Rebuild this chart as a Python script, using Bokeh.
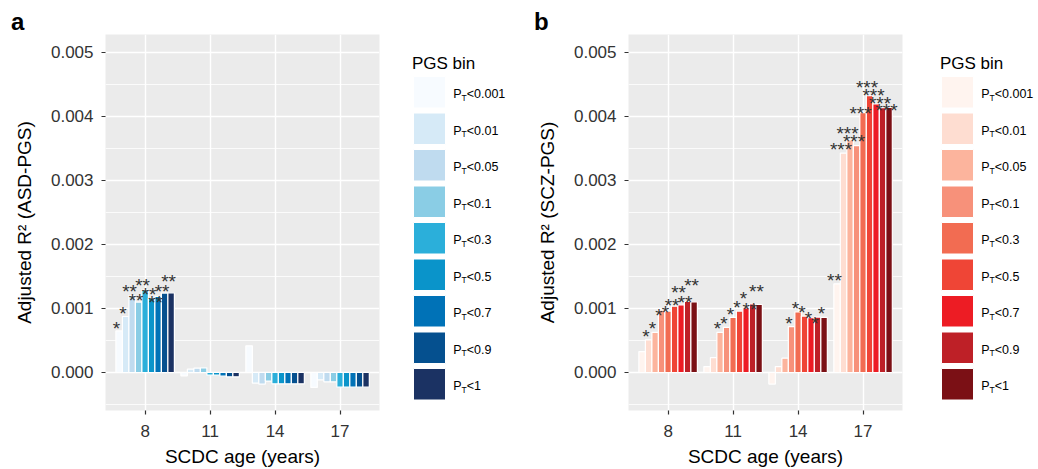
from bokeh.plotting import figure
from bokeh.models import Range1d, FixedTicker, PrintfTickFormatter
from bokeh.layouts import row
from bokeh.embed import file_html
from bokeh.resources import INLINE
from bokeh.core.properties import value

# ---------------- data ----------------
ages = [8, 11, 14, 17]
pgs_bins = ["0.001", "0.01", "0.05", "0.1", "0.3", "0.5", "0.7", "0.9", "1"]

asd_age8 = [0.00065, 0.000875, 0.0012, 0.0011, 0.00129, 0.00116, 0.00119, 0.00124, 0.001245]
asd_age11 = [-0.000052, 0.000052, 0.000068, 0.000073, -0.000042, -0.000042, -0.000057, -0.000068, -0.000068]
asd_age14 = [0.000417, -0.000167, -0.000182, -0.000135, -0.000177, -0.000177, -0.000177, -0.000177, -0.000177]
asd_age17 = [-0.000234, -0.000115, -0.000146, -0.000146, -0.000229, -0.000229, -0.000229, -0.000229, -0.000229]

scz_age8 = [0.000326, 0.000508, 0.000627, 0.000974, 0.000959, 0.001036, 0.001057, 0.001109, 0.001104]
scz_age11 = [0.000093, 0.000233, 0.000627, 0.000705, 0.00086, 0.000959, 0.00101, 0.001073, 0.001062]
scz_age14 = [-0.000181, 0.000093, 0.000223, 0.000715, 0.000948, 0.000881, 0.000855, 0.000865, 0.00086]
scz_age17 = [0.001386, 0.003427, 0.003634, 0.003546, 0.00406, 0.004325, 0.004195, 0.004138, 0.004143]

asd_sig8 = ["*", "*", "**", "**", "**", "**", "**", "**", "**"]
asd_sig11 = [""] * 9
asd_sig14 = [""] * 9
asd_sig17 = [""] * 9

scz_sig8 = ["", "*", "*", "*", "*", "**", "**", "**", "**"]
scz_sig11 = ["", "", "*", "*", "*", "*", "*", "**", "**"]
scz_sig14 = ["", "", "", "*", "*", "*", "*", "*", "*"]
scz_sig17 = ["**", "***", "***", "***", "***", "***", "***", "***", "***"]

# heights (centre of the asterisks) of the significance labels, as read
asd_lab8 = [0.000849, 0.001094, 0.001432, 0.001292, 0.001526, 0.001385, 0.001266, 0.001432, 0.001589]
asd_lab11 = [0] * 9
asd_lab14 = [0] * 9
asd_lab17 = [0] * 9
scz_lab8 = [0, 0.000731, 0.000855, 0.001062, 0.001104, 0.001218, 0.001415, 0.001269, 0.001523]
scz_lab11 = [0, 0, 0.00085, 0.00093, 0.00108, 0.00119, 0.00133, 0.00115, 0.00144]
scz_lab14 = [0, 0, 0, 0.00094, 0.00117, 0.00111, 0.00102, 0.00094, 0.00109]
scz_lab17 = [0.001604, 0.00365, 0.003904, 0.003785, 0.004216, 0.004626, 0.004502, 0.004377, 0.004258]

y_ticks = [0.0, 0.001, 0.002, 0.003, 0.004, 0.005]

blues = ["#F7FBFF", "#D6EAF7", "#BFDBEF", "#8ACDE5", "#2BAFDA", "#0A94CA", "#0072B7", "#05508F", "#1B3263"]
reds = ["#FFF4EF", "#FEDDD1", "#FCB49D", "#F7917A", "#F26C52", "#EF4536", "#ED1C24", "#BE2027", "#7B1015"]

# ---------------- layout ----------------
FONT = "Liberation Sans"
H = 469
FRAME_TOP = 34
FRAME_H = 376
FRAME_W = 274
MB_BOTTOM = H - FRAME_TOP - FRAME_H
X0, X1 = 6.17, 18.82
Y0, Y1 = -0.000594, 0.005281
PXX = FRAME_W / (X1 - X0)
PXY = FRAME_H / (Y1 - Y0)
BAR_W = 0.3
STAR_FS = 19


def make_panel(groups, sigs, labs, colors, ytitle, width, left, letter):
    right = width - left - FRAME_W
    p = figure(width=width, height=H, x_range=Range1d(X0, X1), y_range=Range1d(Y0, Y1),
               output_backend="svg", toolbar_location=None, title=letter,
               min_border_left=left, min_border_right=right,
               min_border_top=FRAME_TOP, min_border_bottom=MB_BOTTOM)
    p.title.text_font = FONT
    p.title.text_font_size = "24px"
    p.title.text_font_style = "bold"
    p.title.text_color = "black"
    p.title.align = "left"
    p.title.offset = -94.5
    p.title.standoff = 0
    p.background_fill_color = "#EBEBEB"
    p.border_fill_color = "white"
    p.outline_line_color = None

    p.xaxis.ticker = FixedTicker(ticks=ages, minor_ticks=[])
    minor = [-0.0005 + 0.001 * k for k in range(6)]
    p.yaxis.ticker = FixedTicker(ticks=y_ticks, minor_ticks=minor)
    p.yaxis.formatter = PrintfTickFormatter(format="%.3f")
    for ax in (p.xaxis, p.yaxis):
        ax.axis_line_color = None
        ax.major_tick_line_color = "#333333"
        ax.major_tick_line_width = 1.2
        ax.major_tick_out = 4
        ax.major_tick_in = 0
        ax.minor_tick_line_color = None
        ax.major_label_text_font = FONT
        ax.major_label_text_font_size = "17px"
        ax.major_label_text_color = "#333333"
        ax.axis_label_text_font = FONT
        ax.axis_label_text_font_size = "19px"
        ax.axis_label_text_font_style = "normal"
        ax.axis_label_text_color = "#000000"
    p.xaxis.axis_label = "SCDC age (years)"
    p.yaxis.axis_label = ytitle
    p.xaxis.major_label_standoff = 10
    p.xaxis.axis_label_standoff = 6
    p.yaxis.major_label_standoff = 8
    p.yaxis.axis_label_standoff = 13

    p.xgrid.grid_line_color = "white"
    p.xgrid.grid_line_width = 1.4
    p.ygrid.grid_line_color = "white"
    p.ygrid.grid_line_width = 1.4
    p.ygrid.minor_grid_line_color = "white"
    p.ygrid.minor_grid_line_width = 0.8

    xs, tops, cols = [], [], []
    sx, sy, st = [], [], []
    for age, vals, sg, lb in zip(ages, groups, sigs, labs):
        for i, v in enumerate(vals):
            bx = age + (i - 4) * BAR_W
            xs.append(bx)
            tops.append(v)
            cols.append(colors[i])
            if sg[i]:
                sx.append(bx - 0.12)
                sy.append(lb[i] - 0.57 * STAR_FS / PXY)
                st.append(sg[i])
    p.vbar(x=xs, top=tops, bottom=0, width=BAR_W, fill_color=cols,
           line_color="white", line_width=1.2)
    p.text(x=sx, y=sy, text=st, text_font=value(FONT), text_font_size=f"{STAR_FS}px",
           text_align="center", text_baseline="alphabetic", text_color="#333333")
    return p


def make_legend(x_left, width, key_x, label_x, title_x, colors):
    # frame aligned with the panels' frames; y given in page pixels (top = 0)
    L = figure(width=width, height=H, x_range=Range1d(x_left, x_left + width),
               y_range=Range1d(FRAME_TOP + FRAME_H, FRAME_TOP), output_backend="svg",
               toolbar_location=None, title=None,
               min_border_left=0, min_border_right=0, min_border_top=FRAME_TOP,
               min_border_bottom=MB_BOTTOM, x_axis_type=None, y_axis_type=None)
    L.grid.visible = False
    L.outline_line_color = None
    L.background_fill_color = "white"
    L.border_fill_color = "white"
    L.text(x=[title_x], y=[63.3], text=["PGS bin"], text_font=value(FONT),
           text_font_size="17px", text_baseline="alphabetic", text_align="left", text_color="black")
    tops = [76 + 36.5 * i for i in range(len(pgs_bins))]
    L.quad(left=key_x, right=key_x + 32, top=tops, bottom=[t + 31.5 for t in tops],
           fill_color=colors, line_color="white", line_width=1)
    base = [t + 15.75 + 2 for t in tops]
    L.text(x=label_x, y=base, text=["P"] * len(pgs_bins), text_font=value(FONT),
           text_font_size="12.5px", text_baseline="alphabetic", text_align="left", text_color="black")
    L.text(x=label_x + 8.3, y=[b + 3.5 for b in base], text=["T"] * len(pgs_bins), text_font=value(FONT),
           text_font_size="8.5px", text_baseline="alphabetic", text_align="left", text_color="black")
    L.text(x=label_x + 13.5, y=base, text=["<" + b for b in pgs_bins], text_font=value(FONT),
           text_font_size="12.5px", text_baseline="alphabetic", text_align="left", text_color="black")
    return L


pa = make_panel([asd_age8, asd_age11, asd_age14, asd_age17],
                [asd_sig8, asd_sig11, asd_sig14, asd_sig17],
                [asd_lab8, asd_lab11, asd_lab14, asd_lab17],
                blues, "Adjusted R² (ASD-PGS)", 408, 105, "a")
la = make_legend(408, 115, 413, 452.7, 411.5, blues)
pb = make_panel([scz_age8, scz_age11, scz_age14, scz_age17],
                [scz_sig8, scz_sig11, scz_sig14, scz_sig17],
                [scz_lab8, scz_lab11, scz_lab14, scz_lab17],
                reds, "Adjusted R² (SCZ-PGS)", 390, 105, "b")
lb = make_legend(913, 125, 941, 980.7, 939.5, reds)

layout = row(pa, la, pb, lb)
open("out.html", "w").write(file_html(layout, INLINE))
